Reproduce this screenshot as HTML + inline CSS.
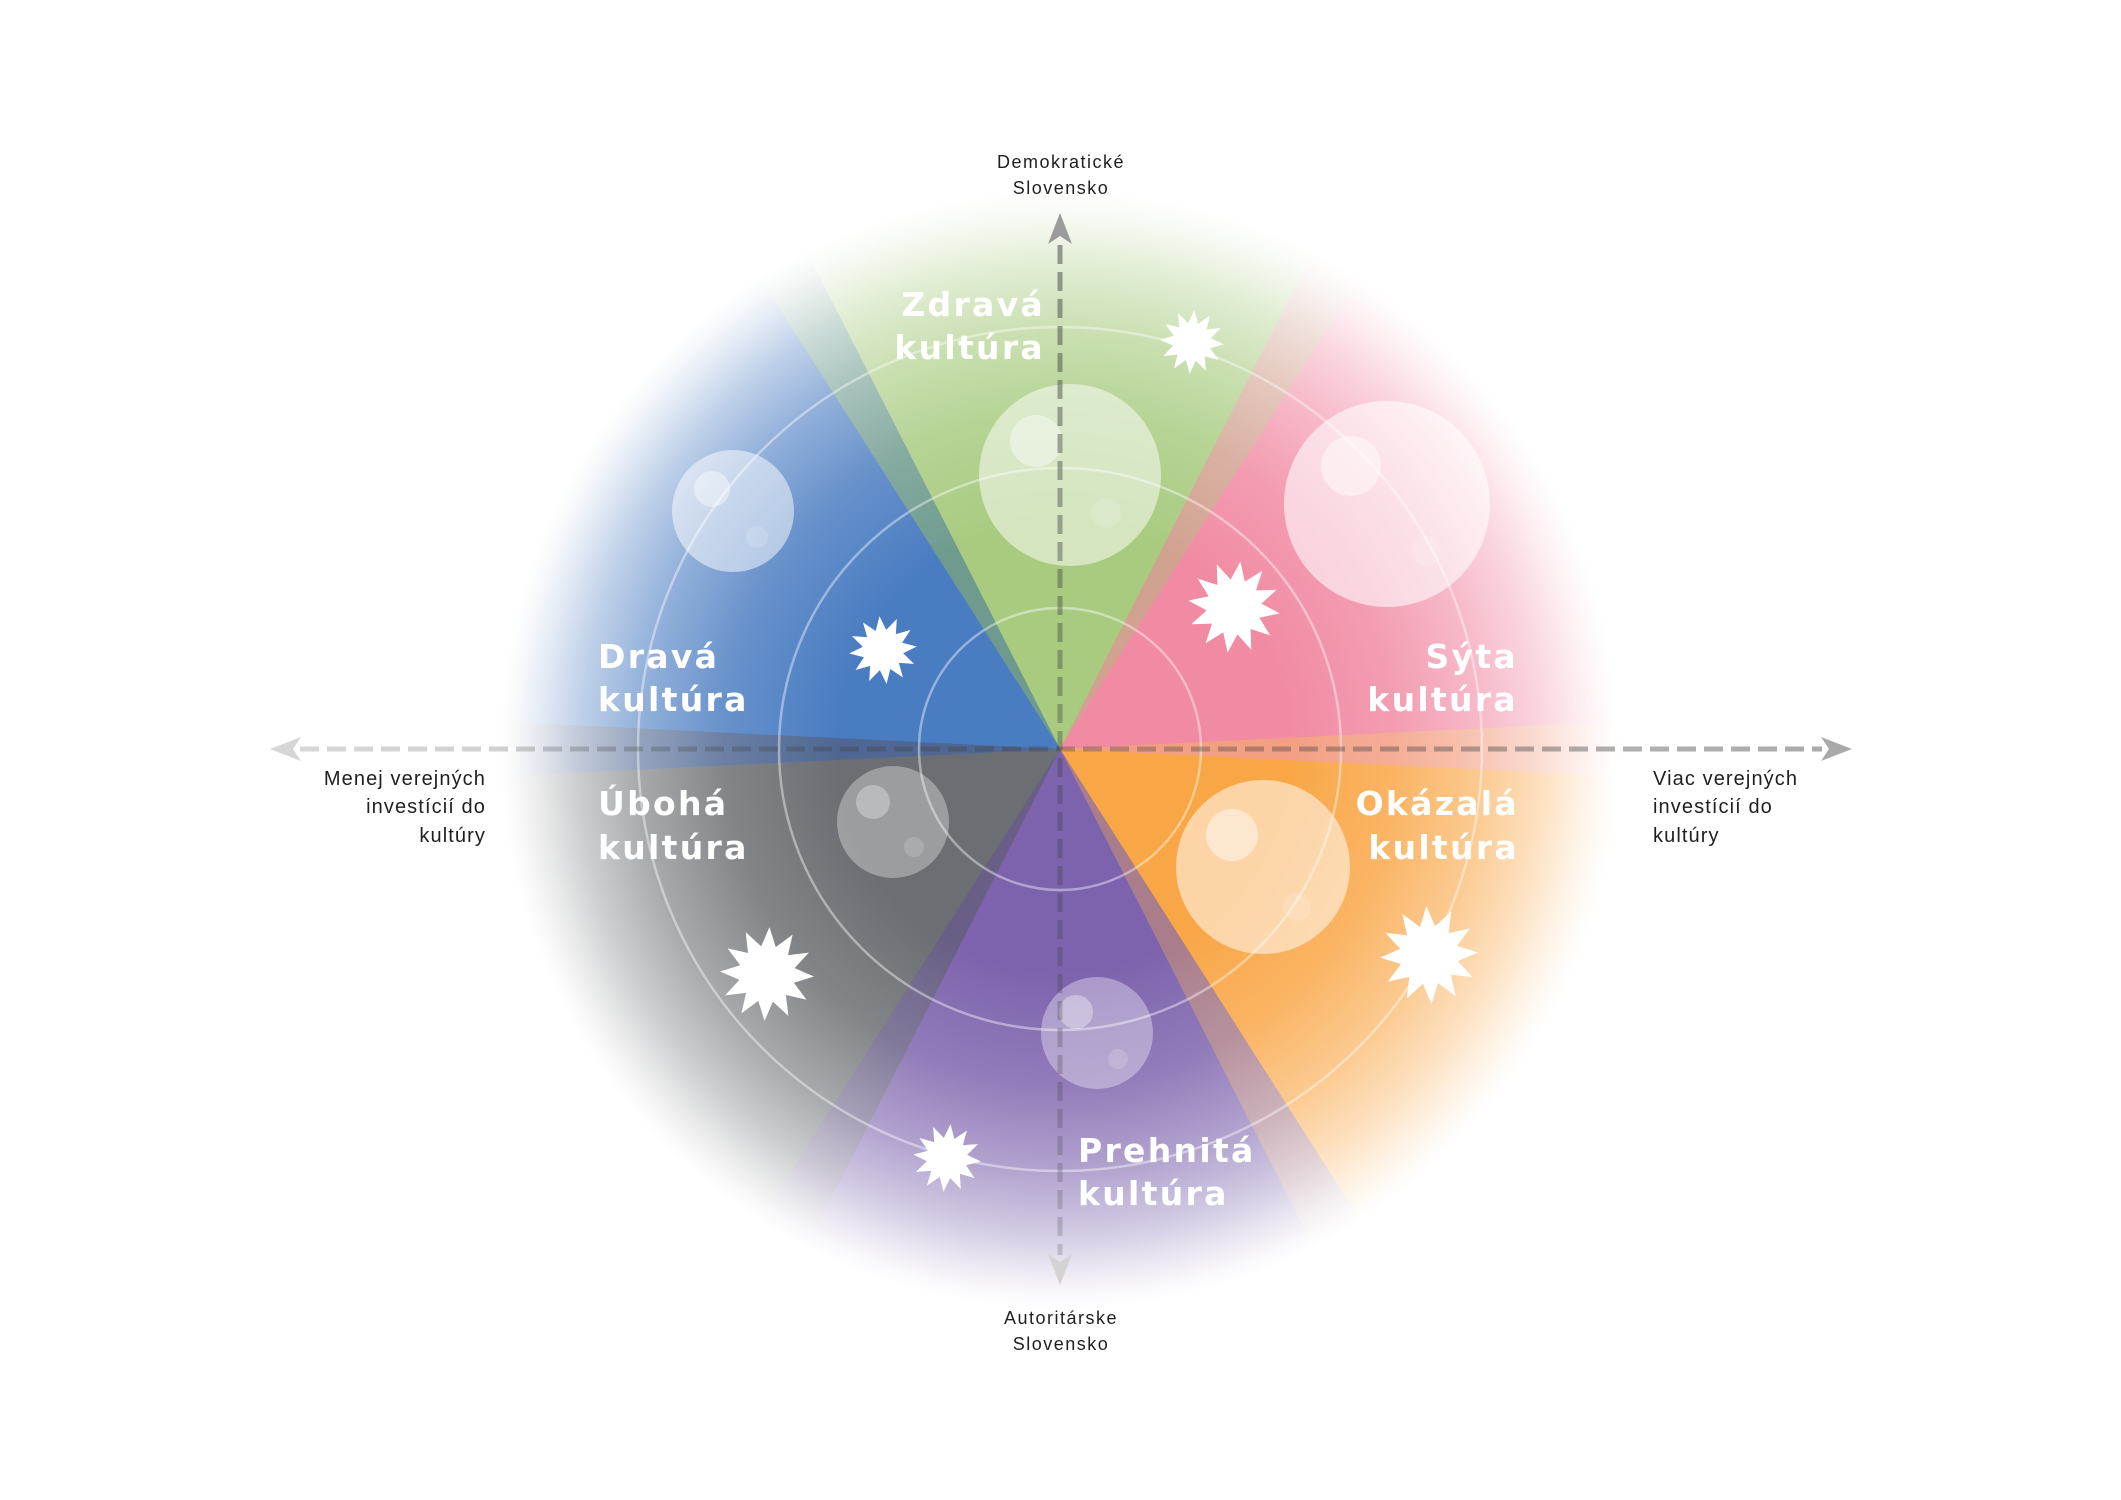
<!DOCTYPE html>
<html>
<head>
<meta charset="utf-8">
<style>
  html, body { margin: 0; padding: 0; background: #ffffff; }
  body { width: 2121px; height: 1500px; overflow: hidden; }
  svg { display: block; }
  .lbl { font-family: "Liberation Sans", Arial, sans-serif; fill: #1f1f1f; }
  .big { font-family: "DejaVu Sans", "Liberation Sans", sans-serif; font-weight: bold; fill: #ffffff; font-size: 33px; letter-spacing: 2.3px; }
</style>
</head>
<body>
<svg width="2121" height="1500" viewBox="0 0 2121 1500" xmlns="http://www.w3.org/2000/svg">
  <defs>
    <radialGradient id="fade" cx="1060" cy="749" r="560" gradientUnits="userSpaceOnUse">
      <stop offset="0" stop-color="#fff" stop-opacity="1"/>
      <stop offset="0.4" stop-color="#fff" stop-opacity="1"/>
      <stop offset="0.6" stop-color="#fff" stop-opacity="0.84"/>
      <stop offset="0.75" stop-color="#fff" stop-opacity="0.6"/>
      <stop offset="0.86" stop-color="#fff" stop-opacity="0.35"/>
      <stop offset="0.93" stop-color="#fff" stop-opacity="0.15"/>
      <stop offset="0.975" stop-color="#fff" stop-opacity="0.04"/>
      <stop offset="1" stop-color="#fff" stop-opacity="0"/>
    </radialGradient>
    <mask id="m" maskUnits="userSpaceOnUse" x="0" y="0" width="2121" height="1500">
      <rect x="0" y="0" width="2121" height="1500" fill="url(#fade)"/>
    </mask>
    <linearGradient id="hg" x1="270" y1="0" x2="1852" y2="0" gradientUnits="userSpaceOnUse">
      <stop offset="0" stop-color="#3c3c3c" stop-opacity="0.2"/>
      <stop offset="1" stop-color="#3c3c3c" stop-opacity="0.44"/>
    </linearGradient>
    <linearGradient id="vg" x1="0" y1="213" x2="0" y2="1285" gradientUnits="userSpaceOnUse">
      <stop offset="0" stop-color="#3c3c3c" stop-opacity="0.5"/>
      <stop offset="1" stop-color="#3c3c3c" stop-opacity="0.2"/>
    </linearGradient>
    <path id="star" d="M0,-1 L0.1553,-0.5796 L0.5,-0.866 L0.4243,-0.4243 L0.866,-0.5 L0.5796,-0.1553 L1,0 L0.5796,0.1553 L0.866,0.5 L0.4243,0.4243 L0.5,0.866 L0.1553,0.5796 L0,1 L-0.1553,0.5796 L-0.5,0.866 L-0.4243,0.4243 L-0.866,0.5 L-0.5796,0.1553 L-1,0 L-0.5796,-0.1553 L-0.866,-0.5 L-0.4243,-0.4243 L-0.5,-0.866 L-0.1553,-0.5796 Z"/>
  </defs>

  <!-- Colored wedges with radial fade -->
  <g mask="url(#m)">
    <polygon points="1060,749 630.2,74.3 1489.8,74.3" fill="#a8cb80"/>
    <polygon points="1060,749 1423.2,36.2 1859,788.1" fill="#f18aa3"/>
    <polygon points="1060,749 1859,709.9 1423.2,1461.8" fill="#f9a646"/>
    <polygon points="1060,749 1489.8,1423.7 630.2,1423.7" fill="#7d63ad"/>
    <polygon points="1060,749 696.8,1461.8 261,709.9" fill="#6b6e72"/>
    <polygon points="1060,749 261,788.1 696.8,36.2" fill="#4a7cc1"/>
    <polygon points="1060,749 630.2,74.3 696.8,36.2" fill="#6f9b8f"/>
    <polygon points="1060,749 1423.2,36.2 1489.8,74.3" fill="#d2a291"/>
    <polygon points="1060,749 1859,709.9 1859,788.1" fill="#f39f83"/>
    <polygon points="1060,749 1489.8,1423.7 1423.2,1461.8" fill="#a97d8b"/>
    <polygon points="1060,749 696.8,1461.8 630.2,1423.7" fill="#695f86"/>
    <polygon points="1060,749 261,788.1 261,709.9" fill="#4f6792"/>
  </g>

  <!-- concentric circles -->
  <g fill="none" stroke="#ffffff" stroke-opacity="0.42" stroke-width="2.5">
    <circle cx="1060" cy="749" r="141"/>
    <circle cx="1060" cy="749" r="281"/>
    <circle cx="1060" cy="749" r="422"/>
  </g>

  <!-- bubbles -->
  <g fill="#ffffff">
    <circle cx="1070" cy="475" r="91" fill-opacity="0.5"/>
    <circle cx="1036" cy="441" r="26" fill-opacity="0.4"/>
    <circle cx="1106" cy="513" r="15" fill-opacity="0.15"/>

    <circle cx="733" cy="511" r="61" fill-opacity="0.5"/>
    <circle cx="712" cy="489" r="18" fill-opacity="0.4"/>
    <circle cx="757" cy="537" r="11" fill-opacity="0.15"/>

    <circle cx="1387" cy="504" r="103" fill-opacity="0.58"/>
    <circle cx="1351" cy="466" r="30" fill-opacity="0.45"/>
    <circle cx="1426" cy="551" r="15" fill-opacity="0.15"/>

    <circle cx="893" cy="822" r="56" fill-opacity="0.33"/>
    <circle cx="873" cy="802" r="17" fill-opacity="0.3"/>
    <circle cx="914" cy="847" r="10" fill-opacity="0.15"/>

    <circle cx="1263" cy="867" r="87" fill-opacity="0.52"/>
    <circle cx="1232" cy="835" r="26" fill-opacity="0.45"/>
    <circle cx="1297" cy="907" r="14" fill-opacity="0.15"/>

    <circle cx="1097" cy="1033" r="56" fill-opacity="0.35"/>
    <circle cx="1076" cy="1012" r="17" fill-opacity="0.35"/>
    <circle cx="1118" cy="1059" r="10" fill-opacity="0.15"/>
  </g>

  <!-- axes -->
  <line x1="300" y1="749" x2="1822" y2="749" stroke="url(#hg)" stroke-width="5" stroke-dasharray="19 8"/>
  <line x1="1060" y1="245" x2="1060" y2="1255" stroke="url(#vg)" stroke-width="5" stroke-dasharray="19 8"/>
  <polygon points="1060,213 1072,244 1060,236 1048,244" fill="#9b9b9b"/>
  <polygon points="1060,1285 1072,1254 1060,1262 1048,1254" fill="#d3d3d3"/>
  <polygon points="270,749 301,737 293,749 301,761" fill="#d6d6d6"/>
  <polygon points="1852,749 1821,737 1829,749 1821,761" fill="#a9a9a9"/>

  <!-- stars -->
  <g fill="#ffffff">
    <use href="#star" transform="translate(1192 342) rotate(4) scale(32)"/>
    <use href="#star" transform="translate(883 650) rotate(-6) scale(34)"/>
    <use href="#star" transform="translate(1234 607) rotate(8) scale(46)"/>
    <use href="#star" transform="translate(767 974) rotate(3) scale(47)"/>
    <use href="#star" transform="translate(1429 955) rotate(-3) scale(49)"/>
    <use href="#star" transform="translate(947 1158) rotate(6) scale(34)"/>
  </g>

  <!-- big labels -->
  <text class="big" x="1045" y="316" text-anchor="end">Zdravá</text>
  <text class="big" x="1045" y="359" text-anchor="end">kultúra</text>

  <text class="big" x="598" y="668">Dravá</text>
  <text class="big" x="598" y="711">kultúra</text>

  <text class="big" x="1518" y="668" text-anchor="end">Sýta</text>
  <text class="big" x="1518" y="711" text-anchor="end">kultúra</text>

  <text class="big" x="598" y="815">Úbohá</text>
  <text class="big" x="598" y="859">kultúra</text>

  <text class="big" x="1519" y="815" text-anchor="end">Okázalá</text>
  <text class="big" x="1519" y="859" text-anchor="end">kultúra</text>

  <text class="big" x="1078" y="1162">Prehnitá</text>
  <text class="big" x="1078" y="1205">kultúra</text>

  <!-- axis labels -->
  <g class="lbl" font-size="18" letter-spacing="1.5" text-anchor="middle">
    <text x="1061" y="168">Demokratické</text>
    <text x="1061" y="194">Slovensko</text>
    <text x="1061" y="1324">Autoritárske</text>
    <text x="1061" y="1350">Slovensko</text>
  </g>
  <g class="lbl" font-size="20" letter-spacing="1.1" text-anchor="end">
    <text x="486" y="785">Menej verejných</text>
    <text x="486" y="813">investícií do</text>
    <text x="486" y="842">kultúry</text>
  </g>
  <g class="lbl" font-size="20" letter-spacing="1.1">
    <text x="1653" y="785">Viac verejných</text>
    <text x="1653" y="813">investícií do</text>
    <text x="1653" y="842">kultúry</text>
  </g>
</svg>
</body>
</html>
